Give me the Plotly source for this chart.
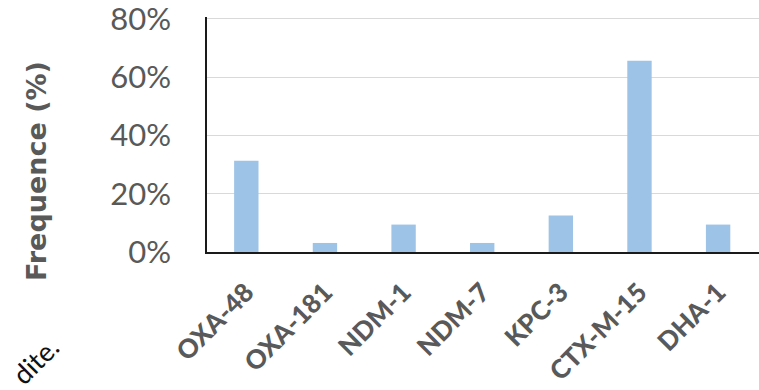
import plotly.graph_objects as go

# Beta-lactamase genes and their frequency among isolates (%)
genes = ["OXA-48", "OXA-181", "NDM-1", "NDM-7", "KPC-3", "CTX-M-15", "DHA-1"]
frequency = [31.3, 3.1, 9.4, 3.1, 12.5, 65.6, 9.4]
y_ticks = [0, 20, 40, 60, 80]

W, H = 759, 390
Y_TOP = 80.6
L, R, B = 207, 0, 138
T = (H - B) - Y_TOP * (233 / 80)
plot_w = W - L - R
plot_h = H - T - B

def px_x(px):
    return (px - L) / plot_w

def px_y(py):
    return (H - B - py) / plot_h

fig = go.Figure(
    go.Bar(
        x=genes,
        y=frequency,
        width=0.31,
        marker=dict(color="#9DC3E6", line=dict(width=0)),
        hoverinfo="x+y",
    )
)

fig.update_layout(
    width=W,
    height=H,
    margin=dict(l=L, r=R, t=T, b=B),
    paper_bgcolor="white",
    plot_bgcolor="white",
    showlegend=False,
    font=dict(family="Lato", color="#595959"),
    xaxis=dict(
        range=[-0.5, 6.52],
        automargin=False,
        showline=True,
        linecolor="#1a1a1a",
        linewidth=1.6,
        showgrid=False,
        ticks="",
        tickangle=-45,
        tickfont=dict(family="Lato", size=26, color="#595959", weight=900),
        ticklabelstandoff=13,
    ),
    yaxis=dict(
        range=[0, Y_TOP],
        automargin=False,
        tickvals=y_ticks,
        ticktext=[f"{v}%" for v in y_ticks],
        ticklabeloverflow="allow",
        showline=True,
        linecolor="#1a1a1a",
        linewidth=1.6,
        showgrid=True,
        gridcolor="#D9D9D9",
        gridwidth=1.4,
        zeroline=False,
        ticks="",
        tickfont=dict(family="Lato", size=31, color="#595959"),
        ticklabelstandoff=28,
    ),
    annotations=[
        dict(
            text="<b>Frequence (%)</b>",
            textangle=-90,
            xref="paper", yref="paper",
            x=px_x(37), y=px_y(171),
            xanchor="center", yanchor="middle",
            showarrow=False,
            font=dict(family="DejaVu Sans", size=27, color="#595959"),
        ),
        dict(
            text="dite.",
            textangle=-45,
            xref="paper", yref="paper",
            x=px_x(35), y=px_y(360),
            xanchor="center", yanchor="middle",
            showarrow=False,
            font=dict(family="Lato", size=27, color="#111111"),
        ),
    ],
)

fig.write_html("out.html")
